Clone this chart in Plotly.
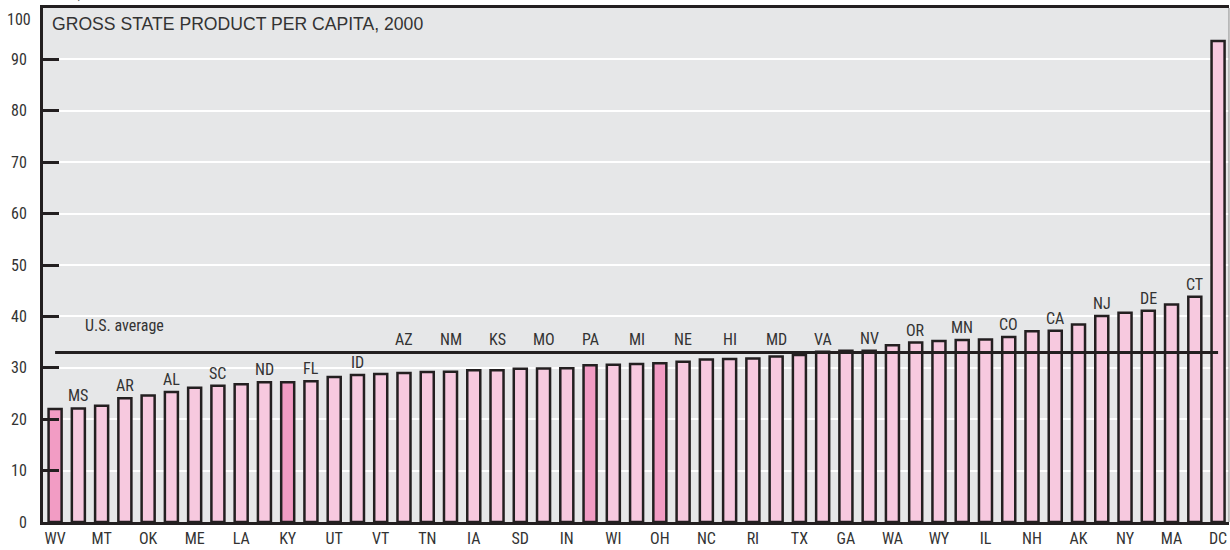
import plotly.graph_objects as go

states = ["WV", "MS", "MT", "AR", "OK", "AL", "ME", "SC", "LA", "ND",
          "KY", "FL", "UT", "ID", "VT", "AZ", "TN", "NM", "IA", "KS",
          "SD", "MO", "IN", "PA", "WI", "MI", "OH", "NE", "NC", "HI",
          "RI", "MD", "TX", "VA", "GA", "NV", "WA", "OR", "WY", "MN",
          "IL", "CO", "NH", "CA", "AK", "NJ", "NY", "DE", "MA", "CT", "DC"]
gsp_per_capita = [22.0, 22.1, 22.6, 24.1, 24.6, 25.3, 26.1, 26.5, 26.8, 27.2,
                  27.2, 27.4, 28.2, 28.6, 28.8, 29.0, 29.2, 29.25, 29.5, 29.5,
                  29.8, 29.85, 29.9, 30.5, 30.6, 30.75, 30.9, 31.2, 31.6, 31.7,
                  31.8, 32.2, 32.5, 33.1, 33.3, 33.3, 34.4, 34.9, 35.2, 35.4,
                  35.5, 36.0, 37.1, 37.2, 38.4, 40.1, 40.7, 41.1, 42.3, 43.8, 93.6]
highlighted = ["WV", "KY", "PA", "OH"]
us_average = 33.0
y_ticks = [0, 10, 20, 30, 40, 50, 60, 70, 80, 90]
bottom_labels = states[0::2]
top_labels = states[1::2]

title_text = "GROSS STATE PRODUCT PER CAPITA, 2000"
unit_text = "Current dollars, thousands"
avg_text = "U.S. average"

COND = "Roboto Condensed, Liberation Sans Narrow, Roboto, sans-serif"
REG = "Liberation Sans, Arial, sans-serif"
INK = "#231f20"
TXT = "#333333"
LIGHT = "#f7c9df"
DARK = "#f29cc4"
BG = "#e6e7e8"

colors = [DARK if s in highlighted else LIGHT for s in states]

fig = go.Figure()
fig.add_trace(go.Bar(
    x=states, y=gsp_per_capita,
    marker=dict(color=colors, line=dict(color=INK, width=2.5)),
    width=0.56, showlegend=False, hoverinfo="x+y",
))

# U.S. average line
fig.add_shape(type="line", xref="x", yref="y",
              x0=states[0], x1=states[-1], y0=us_average, y1=us_average,
              line=dict(color=INK, width=3), layer="above")

LABEL_ROOM = 4.2  # data units needed for a label under the average line
annotations = []
for s, v in zip(states, gsp_per_capita):
    if s in top_labels:
        base = v if v + LABEL_ROOM < us_average else max(v, us_average)
        annotations.append(dict(x=s, y=base, xref="x", yref="y",
                                text=s, showarrow=False, yanchor="bottom",
                                yshift=1, font=dict(family=COND, size=16, color=TXT)))

annotations.append(dict(x=1.2, y=us_average, xref="x", yref="y", text=avg_text,
                        showarrow=False, xanchor="left", yanchor="bottom", yshift=15,
                        font=dict(family=COND, size=16, color=TXT)))
annotations.append(dict(x=0, y=1, xref="paper", yref="paper", text=title_text,
                        showarrow=False, xanchor="left", yanchor="top",
                        xshift=7, yshift=-4,
                        font=dict(family=REG, size=17.6, color=TXT)))
annotations.append(dict(x=0, y=1, xref="paper", yref="paper", text="100",
                        showarrow=False, xanchor="right", yanchor="top",
                        xshift=-10, yshift=0,
                        font=dict(family=COND, size=16, color=TXT)))
annotations.append(dict(x=0, y=1, xref="paper", yref="paper", text=unit_text,
                        showarrow=False, xanchor="left", yanchor="bottom",
                        xshift=-43, yshift=4,
                        font=dict(family=COND, size=13, color="#555")))

fig.update_layout(
    width=1230, height=550,
    margin=dict(l=43, r=1, t=8, b=28),
    paper_bgcolor="white", plot_bgcolor=BG,
    annotations=annotations,
    xaxis=dict(type="category", range=[-0.52, 50.47],
               tickmode="array", tickvals=bottom_labels, ticktext=bottom_labels,
               showgrid=False, ticks="", showline=True, linecolor=INK, linewidth=3,
               mirror=True,
               tickfont=dict(family=COND, size=16, color=TXT)),
    yaxis=dict(range=[0, 100], tickmode="array", tickvals=y_ticks,
               showgrid=True, gridcolor="white", gridwidth=2,
               zeroline=False, showline=True, linecolor=INK, linewidth=3,
               ticks="inside", ticklen=16, tickwidth=2.5, tickcolor=INK,
               ticklabelstandoff=10,
               tickfont=dict(family=COND, size=16, color=TXT)),
)
fig.add_shape(type="line", xref="paper", yref="paper", x0=1, x1=1, y0=0, y1=1,
              line=dict(color="#888", width=1), layer="above")

fig.write_html("out.html", config={"displayModeBar": False},
               post_script="document.body.style.margin='0px';")
